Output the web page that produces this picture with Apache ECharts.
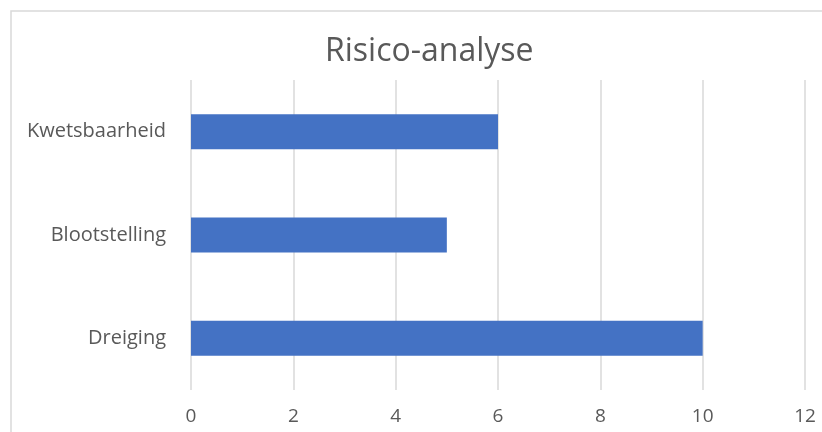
<!DOCTYPE html>
<html>
<head>
<meta charset="utf-8">
<script src="https://cdn.jsdelivr.net/npm/echarts@6/dist/echarts.min.js"></script>
<style>
  html, body { margin: 0; padding: 0; background: #fff; }
  #main { width: 822px; height: 432px; }
</style>
</head>
<body>
<div id="main"></div>
<script>
// data
const categories = ['Dreiging', 'Blootstelling', 'Kwetsbaarheid'];
const values = [10, 5, 6];
const xTicks = [0, 2, 4, 6, 8, 10, 12];

const fontFam = '"Open Sans", Lato, sans-serif';
const textCol = '#595959';

let myChart = echarts.init(document.getElementById('main'));

let chartOption = {
  backgroundColor: '#fff',
  animation: false,
  title: {
    text: 'Risico-analyse',
    left: 320,
    top: 31,
    textStyle: {
      fontFamily: fontFam,
      fontSize: 32,
      fontWeight: 'normal',
      color: textCol
    }
  },
  graphic: [{
    type: 'rect',
    shape: { x: 11, y: 11, width: 900, height: 500 },
    style: { fill: 'none', stroke: '#d9d9d9', lineWidth: 1.5 },
    silent: true
  }],
  grid: {
    left: 191,
    right: 17,
    top: 80,
    bottom: 42
  },
  xAxis: {
    type: 'value',
    min: xTicks[0],
    max: xTicks[xTicks.length - 1],
    interval: 2,
    axisLine: { show: false },
    axisTick: { show: false },
    splitLine: { lineStyle: { color: '#d9d9d9', width: 1.5 } },
    axisLabel: {
      margin: 17,
      fontFamily: fontFam,
      fontSize: 19,
      color: textCol
    }
  },
  yAxis: {
    type: 'category',
    data: categories,
    axisLine: { show: false },
    axisTick: { show: false },
    axisLabel: {
      margin: 25,
      fontFamily: fontFam,
      fontSize: 20,
      color: textCol
    }
  },
  series: [{
    type: 'bar',
    data: values,
    barWidth: 35,
    itemStyle: { color: '#4472C4' }
  }]
};

myChart.setOption(chartOption);
</script>
</body>
</html>
